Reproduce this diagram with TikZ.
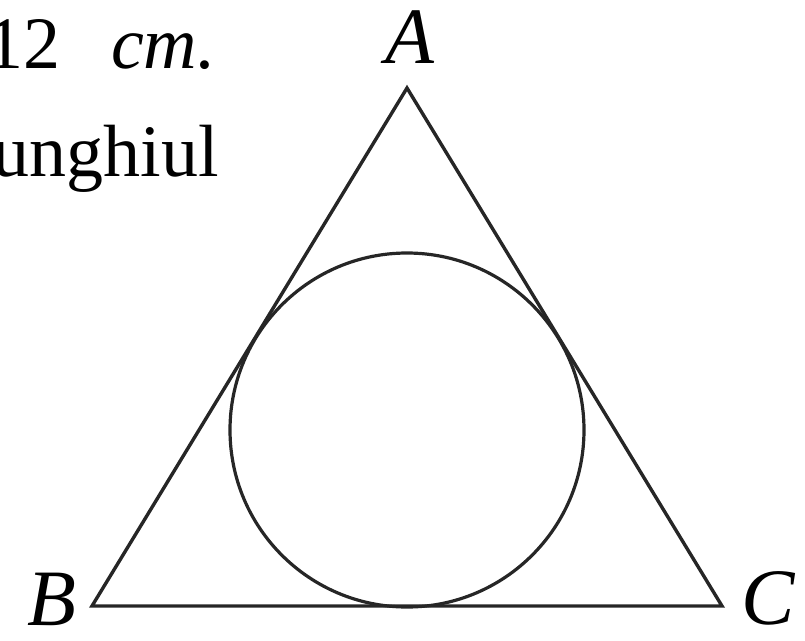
\documentclass[tikz,border=0pt]{standalone}
\usepackage{fontspec}
\setmainfont{Liberation Serif}
\begin{document}
\begin{tikzpicture}[x=1pt,y=-1pt,
  edge/.style={line width=3.4pt, draw=black!85, line join=miter},
  vlabel/.style={font=\fontsize{80}{90}\selectfont\itshape, inner sep=0pt},
  txt/.style={font=\fontsize{74}{90}\selectfont, inner sep=0pt, anchor=base east}]
\useasboundingbox (0,0) rectangle (805,640);
\coordinate (A) at (407,88);
\coordinate (B) at (92,606);
\coordinate (C) at (722,606);
\draw[edge] (A) -- (B) -- (C) -- cycle;
\node[circle, draw=black!85, line width=3.2pt, minimum size=354pt, inner sep=0pt] (I) at (407,430) {};
\node[vlabel] (lA) at (410,37) {A};
\node[vlabel] (lB) at (52,599) {B};
\node[vlabel] (lC) at (768,598) {C};
\node[txt] (t1) at (216,68) {12\hspace{0.68em}\textit{cm.}};
\node[txt] (t2) at (219,176) {unghiul};
\end{tikzpicture}
\end{document}
